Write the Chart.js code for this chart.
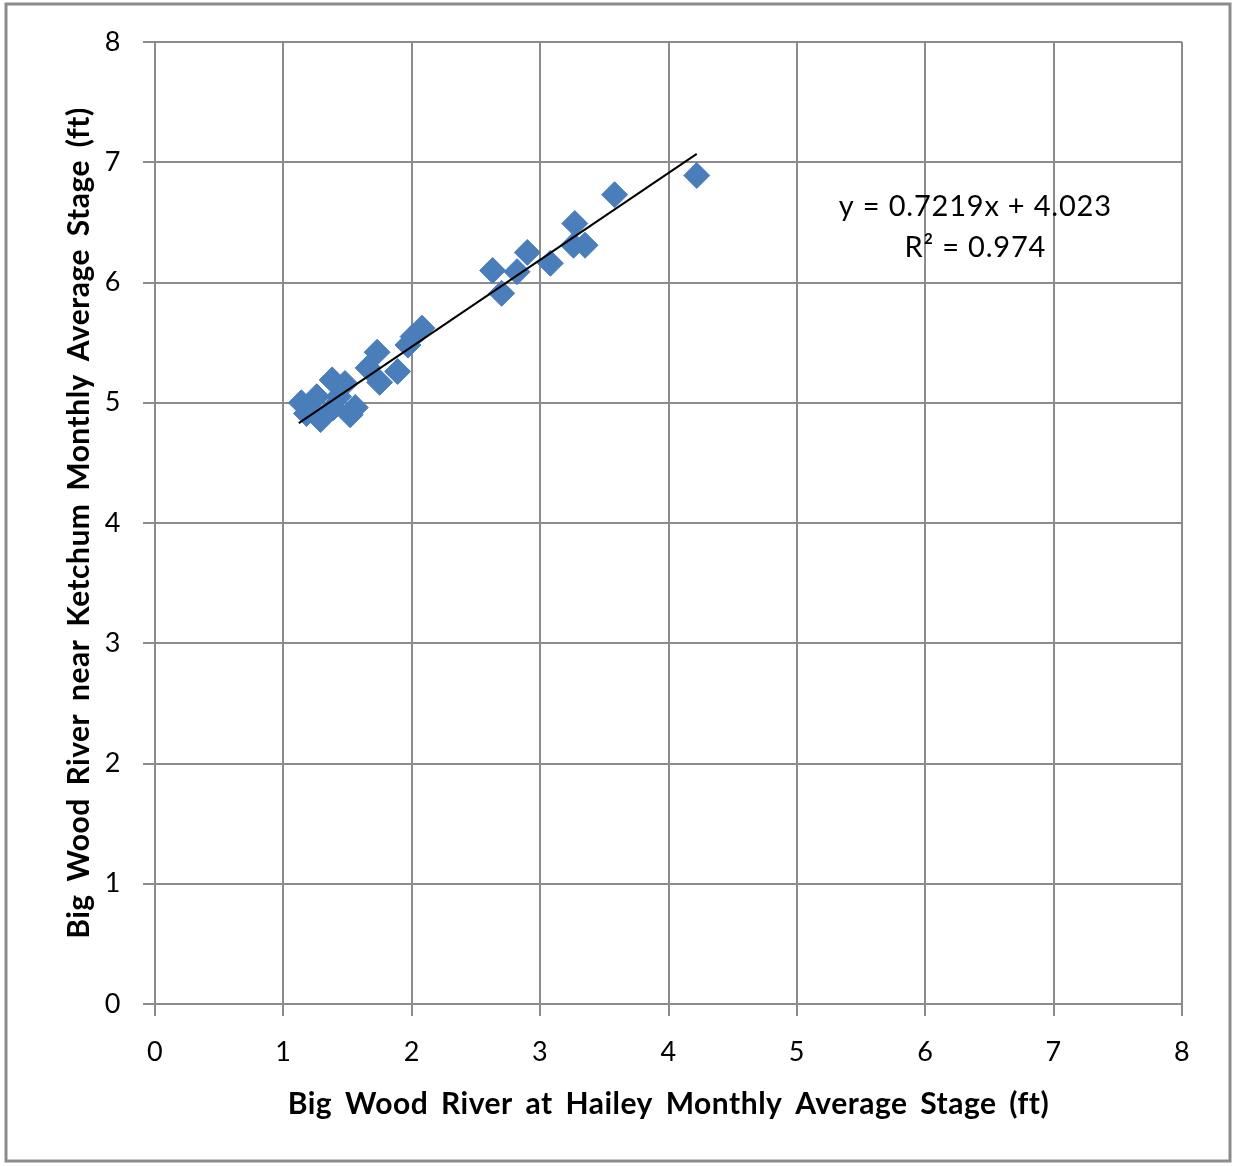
<!DOCTYPE html>
<html lang="en">
<head>
<meta charset="UTF-8">
<title>Big Wood River stage comparison</title>
<script src="https://cdn.jsdelivr.net/npm/chart.js"></script>
<style>
  html, body { margin: 0; padding: 0; background: #fff; }
  #wrap { width: 1236px; height: 1166px; }
</style>
</head>
<body>
<div id="wrap"><canvas id="chart" width="1236" height="1166"></canvas></div>
<script>
// Hailey stage (x) vs Ketchum stage (y)
const haileyStage = [1.14, 1.18, 1.26, 1.29, 1.38, 1.39, 1.43, 1.48, 1.52, 1.56,
  1.66, 1.73, 1.75, 1.89, 1.97, 2.01, 2.08,
  2.63, 2.70, 2.82, 2.90, 3.08, 3.26, 3.27, 3.35, 3.58, 4.22];
const ketchumStage = [5.00, 4.91, 5.05, 4.86, 5.19, 4.96, 5.05, 5.16, 4.90, 4.96,
  5.29, 5.42, 5.17, 5.26, 5.48, 5.55, 5.62,
  6.10, 5.91, 6.09, 6.25, 6.16, 6.31, 6.49, 6.31, 6.73, 6.89];

// linear trendline end points
const trendX = [1.12, 4.22];
const trendY = [4.83, 7.07];

const equationLines = ['y = 0.7219x + 4.023', 'R\u00b2 = 0.974'];
const equationPos = { x: 6.39, y: [6.63, 6.29] };

const axisTicks = [0, 1, 2, 3, 4, 5, 6, 7, 8];

const FONT = 'Lato, "Open Sans", sans-serif';

// the titles in the original have a little extra letter and word spacing
const spacing = {
  id: 'spacing',
  beforeDraw(chart) {
    chart.ctx.letterSpacing = '0.5px';
    chart.ctx.wordSpacing = '5px';
  }
};

const frame = {
  id: 'frame',
  afterDraw(chart) {
    const ctx = chart.ctx;
    ctx.save();
    ctx.strokeStyle = '#8c8c8c';
    ctx.lineWidth = 3;
    ctx.strokeRect(6, 4, 1224, 1157);
    ctx.restore();
  }
};

const equation = {
  id: 'equation',
  afterDatasetsDraw(chart) {
    const { ctx, scales } = chart;
    ctx.save();
    ctx.letterSpacing = '0.8px';
    ctx.wordSpacing = '0px';
    ctx.fillStyle = '#000';
    ctx.font = '29px ' + FONT;
    ctx.textAlign = 'center';
    ctx.textBaseline = 'middle';
    equationLines.forEach((t, i) => {
      ctx.fillText(t, scales.x.getPixelForValue(equationPos.x), scales.y.getPixelForValue(equationPos.y[i]));
    });
    ctx.restore();
  }
};

new Chart(document.getElementById('chart'), {
  type: 'scatter',
  data: {
    datasets: [{
      label: 'Monthly average stage',
      data: haileyStage.map((x, i) => ({ x: x, y: ketchumStage[i] })),
      pointStyle: 'rectRot',
      pointRadius: 13,
      backgroundColor: '#4a7ebb',
      borderColor: '#4a7ebb',
      borderWidth: 1,
      order: 2
    }, {
      label: 'Linear trend',
      type: 'line',
      data: trendX.map((x, i) => ({ x: x, y: trendY[i] })),
      borderColor: '#000',
      borderWidth: 2,
      pointRadius: 0,
      fill: false,
      order: 1
    }]
  },
  options: {
    responsive: false,
    animation: false,
    layout: { padding: { left: 0, top: 42, right: 54, bottom: 0 } },
    plugins: { legend: { display: false }, tooltip: { enabled: false } },
    scales: {
      x: {
        type: 'linear',
        min: 0, max: 8,
        afterBuildTicks: s => { s.ticks = axisTicks.map(v => ({ value: v })); },
        afterFit: s => { s.height = 162; },
        grid: { color: '#8c8c8c', lineWidth: 2, tickLength: 12 },
        border: { color: '#8c8c8c', width: 2 },
        ticks: { color: '#000', font: { family: FONT, size: 27 }, padding: 20, maxRotation: 0 },
        title: {
          display: true,
          text: 'Big Wood River at Hailey Monthly Average Stage (ft)',
          color: '#000',
          font: { family: FONT, size: 30, weight: 'bold' },
          padding: { top: 0, bottom: 44 }
        }
      },
      y: {
        type: 'linear',
        min: 0, max: 8,
        afterBuildTicks: s => { s.ticks = axisTicks.map(v => ({ value: v })); },
        afterFit: s => { s.width = 155; },
        grid: { color: '#8c8c8c', lineWidth: 2, tickLength: 12 },
        border: { color: '#8c8c8c', width: 2 },
        ticks: { color: '#000', font: { family: FONT, size: 27 }, padding: 22 },
        title: {
          display: true,
          text: 'Big Wood River near Ketchum Monthly Average Stage (ft)',
          color: '#000',
          font: { family: FONT, size: 30, weight: 'bold' },
          padding: { top: 61, bottom: 0 }
        }
      }
    }
  },
  plugins: [spacing, frame, equation]
});
</script>
</body>
</html>
